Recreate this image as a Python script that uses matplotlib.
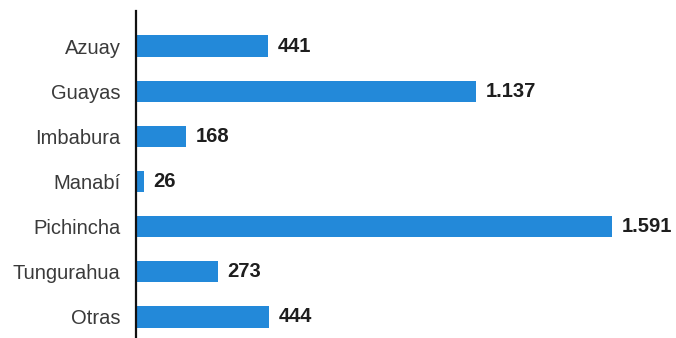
import matplotlib.pyplot as plt

provincias = ['Azuay', 'Guayas', 'Imbabura', 'Manabí', 'Pichincha', 'Tungurahua', 'Otras']
valores = [441, 1137, 168, 26, 1591, 273, 444]
etiquetas = ['441', '1.137', '168', '26', '1.591', '273', '444']

fig = plt.figure(figsize=(6.76, 3.38), dpi=100)
ax = fig.add_axes([136 / 676, 0, 1 - 136 / 676, 1 - 11 / 338])

ax.barh(range(len(provincias)), valores, height=0.47, color='#2389d9')
for i, (v, t) in enumerate(zip(valores, etiquetas)):
    ax.annotate(t, (v, i), xytext=(7, 0), textcoords='offset points',
                va='center', ha='left', fontsize=14.5, fontweight='bold',
                color='#1e1e1e', family='Liberation Sans')

ax.set_xlim(0, 1806)
ax.set_ylim(6.465, -0.775)
ax.set_yticks(range(len(provincias)))
ax.set_yticklabels(provincias, fontsize=14.5, color='#3a3a3a', family='Liberation Sans')
ax.set_xticks([])
ax.tick_params(axis='y', length=0, pad=11)
for s in ['top', 'right', 'bottom']:
    ax.spines[s].set_visible(False)
ax.spines['left'].set_linewidth(1.6)
ax.spines['left'].set_color('#111111')

plt.savefig('out.png', dpi=100)
